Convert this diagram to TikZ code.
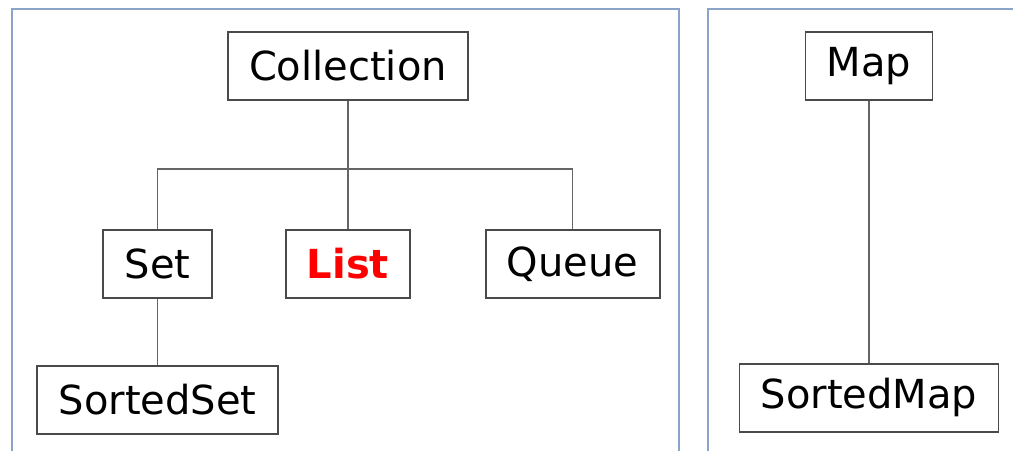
\documentclass[tikz,border=0pt]{standalone}
\usepackage{fontspec}
\setmainfont{DejaVu Sans}
\usetikzlibrary{positioning, calc}
\definecolor{framegray}{HTML}{4A4A4A}
\definecolor{panelblue}{HTML}{8BA3C7}
\tikzset{
  iface/.style = {draw = framegray, line width = 1.4pt, fill = white,
    inner xsep = 16pt, inner ysep = 0pt, minimum height = 51pt,
    font = \fontsize{30}{36}\selectfont},
  hot/.style = {iface, text = red, font = \fontsize{30}{36}\selectfont\bfseries},
  link/.style = {draw = framegray!85, line width = 1.1pt},
  panel/.style = {draw = panelblue, line width = 1.5pt}
}
\begin{document}
\begin{tikzpicture}[x = 0.75pt, y = -0.75pt]

\useasboundingbox (0,0) rectangle (1013,450);
\clip (0,0) rectangle (1013,450);

\draw [panel] (12,9) rectangle (679,480);
\draw [panel] (708,9) rectangle (1040,480);

\node [iface] (coll) at (348,66) {Collection};
\node [hot] (list) [below = 96pt of coll] {List};
\node [iface] (set) [left = 54pt of list] {Set};
\node [iface] (queue) [right = 55pt of list] {Queue};
\node [iface] (sset) [below = 49.5pt of set] {SortedSet};

\node [iface] (map) at (869,66) {Map};
\node [iface] (smap) [below = 196.5pt of map] {SortedMap};

\coordinate (bar) at ($(coll.south)!0.53!(list.north)$);
\draw [link] (coll.south) -- (bar) -- (list.north);
\draw [link] (set.north) |- (bar) -| (queue.north);
\draw [link] (set) -- (sset);
\draw [link] (map) -- (smap);

\end{tikzpicture}
\end{document}
